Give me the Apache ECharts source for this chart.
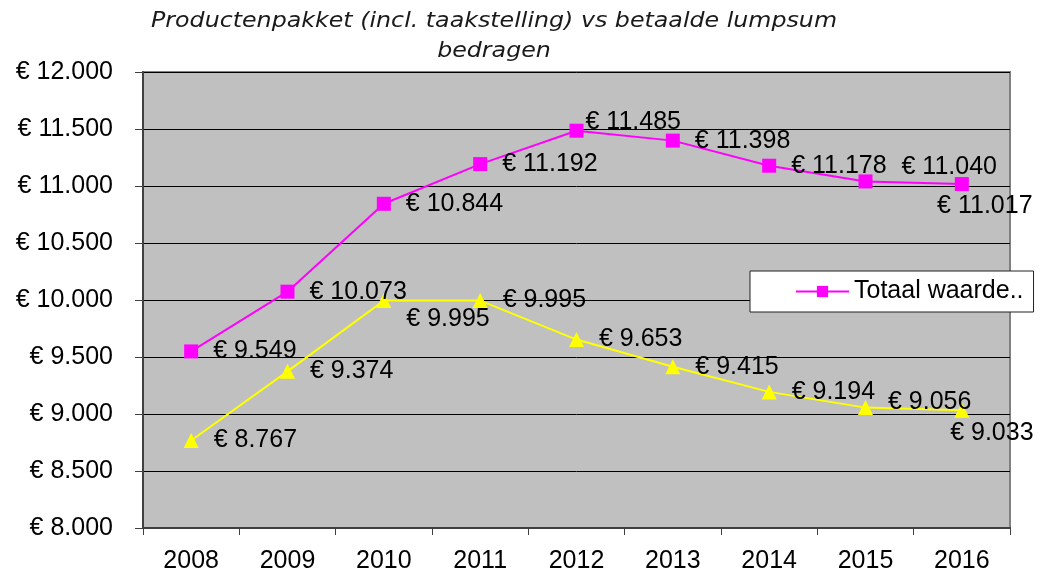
<!DOCTYPE html>
<html>
<head>
<meta charset="utf-8">
<script src="https://cdn.jsdelivr.net/npm/echarts@6/dist/echarts.min.js"></script>
<style>html,body{margin:0;padding:0;background:#fff}#c{width:1045px;height:574px}</style>
</head>
<body>
<div id="c"></div>
<script>
const categories = ['2008','2009','2010','2011','2012','2013','2014','2015','2016'];
const totaalWaarde = [9549, 10073, 10844, 11192, 11485, 11398, 11178, 11040, 11017];
const lumpsum = [8767, 9374, 9995, 9995, 9653, 9415, 9194, 9056, 9033];
const seriesNames = ['Totaal waarde..', 'Betaalde lumpsum'];
const titleLines = ['Productenpakket (incl. taakstelling) vs betaalde lumpsum', 'bedragen'];

const FONT = '"Liberation Sans", Arial, sans-serif';
function fmt(v) {
  return '€ ' + String(Math.round(v)).replace(/\B(?=(\d{3})+(?!\d))/g, '.');
}

// label placement tweaks (layout only)
const pinkAdjust = { 4: {offset: [-13, -9]}, 7: {offset: [14, -14]}, 8: {position: 'inside', offset: [23, 22]} };
const yellowAdjust = { 2: {offset: [0, 19]}, 7: {offset: [0, -6]}, 8: {position: 'inside', offset: [30, 23]} };

function buildData(values, adjust) {
  return values.map((v, i) => {
    const item = { value: v };
    if (adjust[i]) item.label = Object.assign({}, adjust[i]);
    return item;
  });
}

const labelBase = {
  show: true, position: 'right', distance: 15,
  fontFamily: FONT, fontSize: 25, color: '#000',
  formatter: p => fmt(p.value)
};

const chart = echarts.init(document.getElementById('c'), null, {renderer: 'canvas'});
chart.setOption({
  animation: false,
  backgroundColor: '#fff',
  graphic: [{
    type: 'text', x: 494, y: 7, z: 10, scaleX: 1.13,
    style: {
      text: titleLines.join('\n'), textAlign: 'center',
      font: 'italic 21px "DejaVu Sans", Verdana, sans-serif',
      lineHeight: 30, fill: '#1a1a1a'
    }
  }],
  grid: {
    left: 143, right: 35, top: 72, bottom: 44,
    show: true, backgroundColor: '#C0C0C0', borderColor: '#808080', borderWidth: 2
  },
  legend: {
    data: [seriesNames[0]],
    left: 750, top: 271,
    orient: 'horizontal',
    itemWidth: 53, itemHeight: 14,
    padding: [8, 10, 8, 45],
    backgroundColor: '#fff', borderColor: '#222', borderWidth: 1,
    textStyle: { fontFamily: FONT, fontSize: 25, color: '#000' }
  },
  xAxis: {
    type: 'category', data: categories, boundaryGap: true,
    axisLine: { lineStyle: { color: '#404040', width: 2 } },
    axisTick: { show: true, length: 7, lineStyle: { color: '#404040', width: 1 } },
    axisLabel: { fontFamily: FONT, fontSize: 25, color: '#000', margin: 21 },
    splitLine: { show: false }
  },
  yAxis: {
    type: 'value', min: 8000, max: 12000, interval: 500,
    axisLine: { show: true, lineStyle: { color: '#404040', width: 2 } },
    axisTick: { show: true, length: 8, lineStyle: { color: '#404040', width: 1 } },
    axisLabel: { fontFamily: FONT, fontSize: 25, color: '#000', margin: 30, formatter: v => fmt(v) },
    splitLine: { show: true, lineStyle: { color: '#000', width: 1 } }
  },
  series: [
    {
      name: seriesNames[0], type: 'line', data: buildData(totaalWaarde, pinkAdjust),
      symbol: 'rect', symbolSize: 14,
      lineStyle: { color: '#FF00FF', width: 2 },
      itemStyle: { color: '#FF00FF' },
      label: labelBase, z: 3
    },
    {
      name: seriesNames[1], type: 'line', data: buildData(lumpsum, yellowAdjust),
      symbol: 'triangle', symbolSize: 15,
      lineStyle: { color: '#FFFF00', width: 2 },
      itemStyle: { color: '#FFFF00' },
      label: labelBase, z: 2
    }
  ]
});
</script>
</body>
</html>
